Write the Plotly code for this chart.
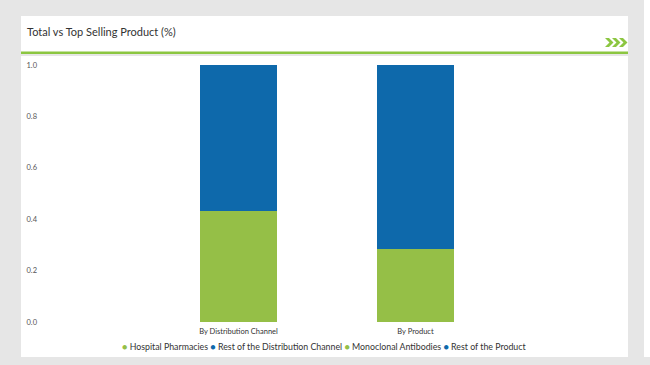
import plotly.graph_objects as go

W, H = 650, 365

categories = ["By Distribution Channel", "By Product"]
series_names = ["Hospital Pharmacies", "Rest of the Distribution Channel",
                "Monoclonal Antibodies", "Rest of the Product"]
series_cats = ["By Distribution Channel", "By Distribution Channel", "By Product", "By Product"]
series_values = [0.43, 0.57, 0.285, 0.715]
series_colors = ["#95bf47", "#0e69ab", "#95bf47", "#0e69ab"]
y_ticks = [0.0, 0.2, 0.4, 0.6, 0.8, 1.0]
title_text = "Total vs Top Selling Product (%)"

def px(x):
    return x / W

def py(y):
    return 1 - y / H

fig = go.Figure()
for name, cat, val, col in zip(series_names, series_cats, series_values, series_colors):
    fig.add_trace(go.Bar(x=[cat], y=[val], name=name, marker_color=col,
                         marker_line_width=0, width=0.435, showlegend=False))

shapes = [
    dict(type="rect", xref="paper", yref="paper", x0=px(21), x1=px(628), y0=py(52), y1=py(16),
         fillcolor="white", line_width=0, layer="below"),
    dict(type="rect", xref="paper", yref="paper", x0=px(21), x1=px(628), y0=py(54), y1=py(51.5),
         fillcolor="#8cc641", line_width=0, layer="below"),
    dict(type="rect", xref="paper", yref="paper", x0=px(21), x1=px(628), y0=py(357), y1=py(56),
         fillcolor="white", line_width=0, layer="below"),
    dict(type="rect", xref="paper", yref="paper", x0=px(644), x1=px(650), y0=py(357), y1=py(0),
         fillcolor="white", line_width=0, layer="below"),
]

# chevron decoration (>>>) in the header
cy = 42.5
for x0 in (605, 612, 619):
    pts = [(x0, cy - 4.5), (x0 + 4, cy - 4.5), (x0 + 8.5, cy), (x0 + 4, cy + 4.5),
           (x0, cy + 4.5), (x0 + 4.5, cy)]
    path = "M " + " L ".join(f"{px(a):.5f},{py(b):.5f}" for a, b in pts) + " Z"
    shapes.append(dict(type="path", xref="paper", yref="paper", path=path,
                       fillcolor="#8cc641", line_width=0))

legend_parts = []
for name, col in zip(series_names, series_colors):
    legend_parts.append(f"<span style='color:{col};font-size:9px'>●</span> {name}")
legend_text = " ".join(legend_parts)

annotations = [
    dict(text=title_text, xref="paper", yref="paper", x=px(25), y=py(32), xanchor="left",
         yanchor="middle", showarrow=False,
         font=dict(family="Lato, Open Sans, sans-serif", size=11, color="#333333")),
    dict(text=legend_text, xref="paper", yref="paper", x=px(324), y=py(346), xanchor="center",
         yanchor="middle", showarrow=False,
         font=dict(family="Lato, Open Sans, sans-serif", size=8.8, color="#333333")),
]

left, right = 38, 620
c0, step = 238.5, 177.0
xr = [-(c0 - left) / step, (right - c0) / step]
top, bottom = 60, 325
yscale = 257.0
yr = [-(bottom - 322) / yscale, 1 + (65 - top) / yscale]

fig.update_layout(
    width=W, height=H,
    margin=dict(l=0, r=0, t=0, b=0),
    paper_bgcolor="#e6e6e6",
    plot_bgcolor="rgba(0,0,0,0)",
    barmode="stack",
    shapes=shapes,
    annotations=annotations,
    font=dict(family="Lato, Open Sans, sans-serif", size=8, color="#444444"),
    xaxis=dict(domain=[px(left), px(right)], range=xr, type="category",
               categoryorder="array", categoryarray=categories,
               showgrid=False, zeroline=False, showline=False, ticks="",
               automargin=False, tickfont=dict(size=7.5, color="#333333")),
    yaxis=dict(domain=[py(bottom), py(top)], range=yr, tickvals=y_ticks,
               tickformat=".1f", showgrid=False, zeroline=False, showline=False,
               ticks="", automargin=False, tickfont=dict(size=7.5, color="#555555")),
    showlegend=False,
)

fig.write_html(
    "out.html",
    config={"displayModeBar": False},
    post_script="document.body.style.margin='0';document.body.style.overflow='hidden';",
)
